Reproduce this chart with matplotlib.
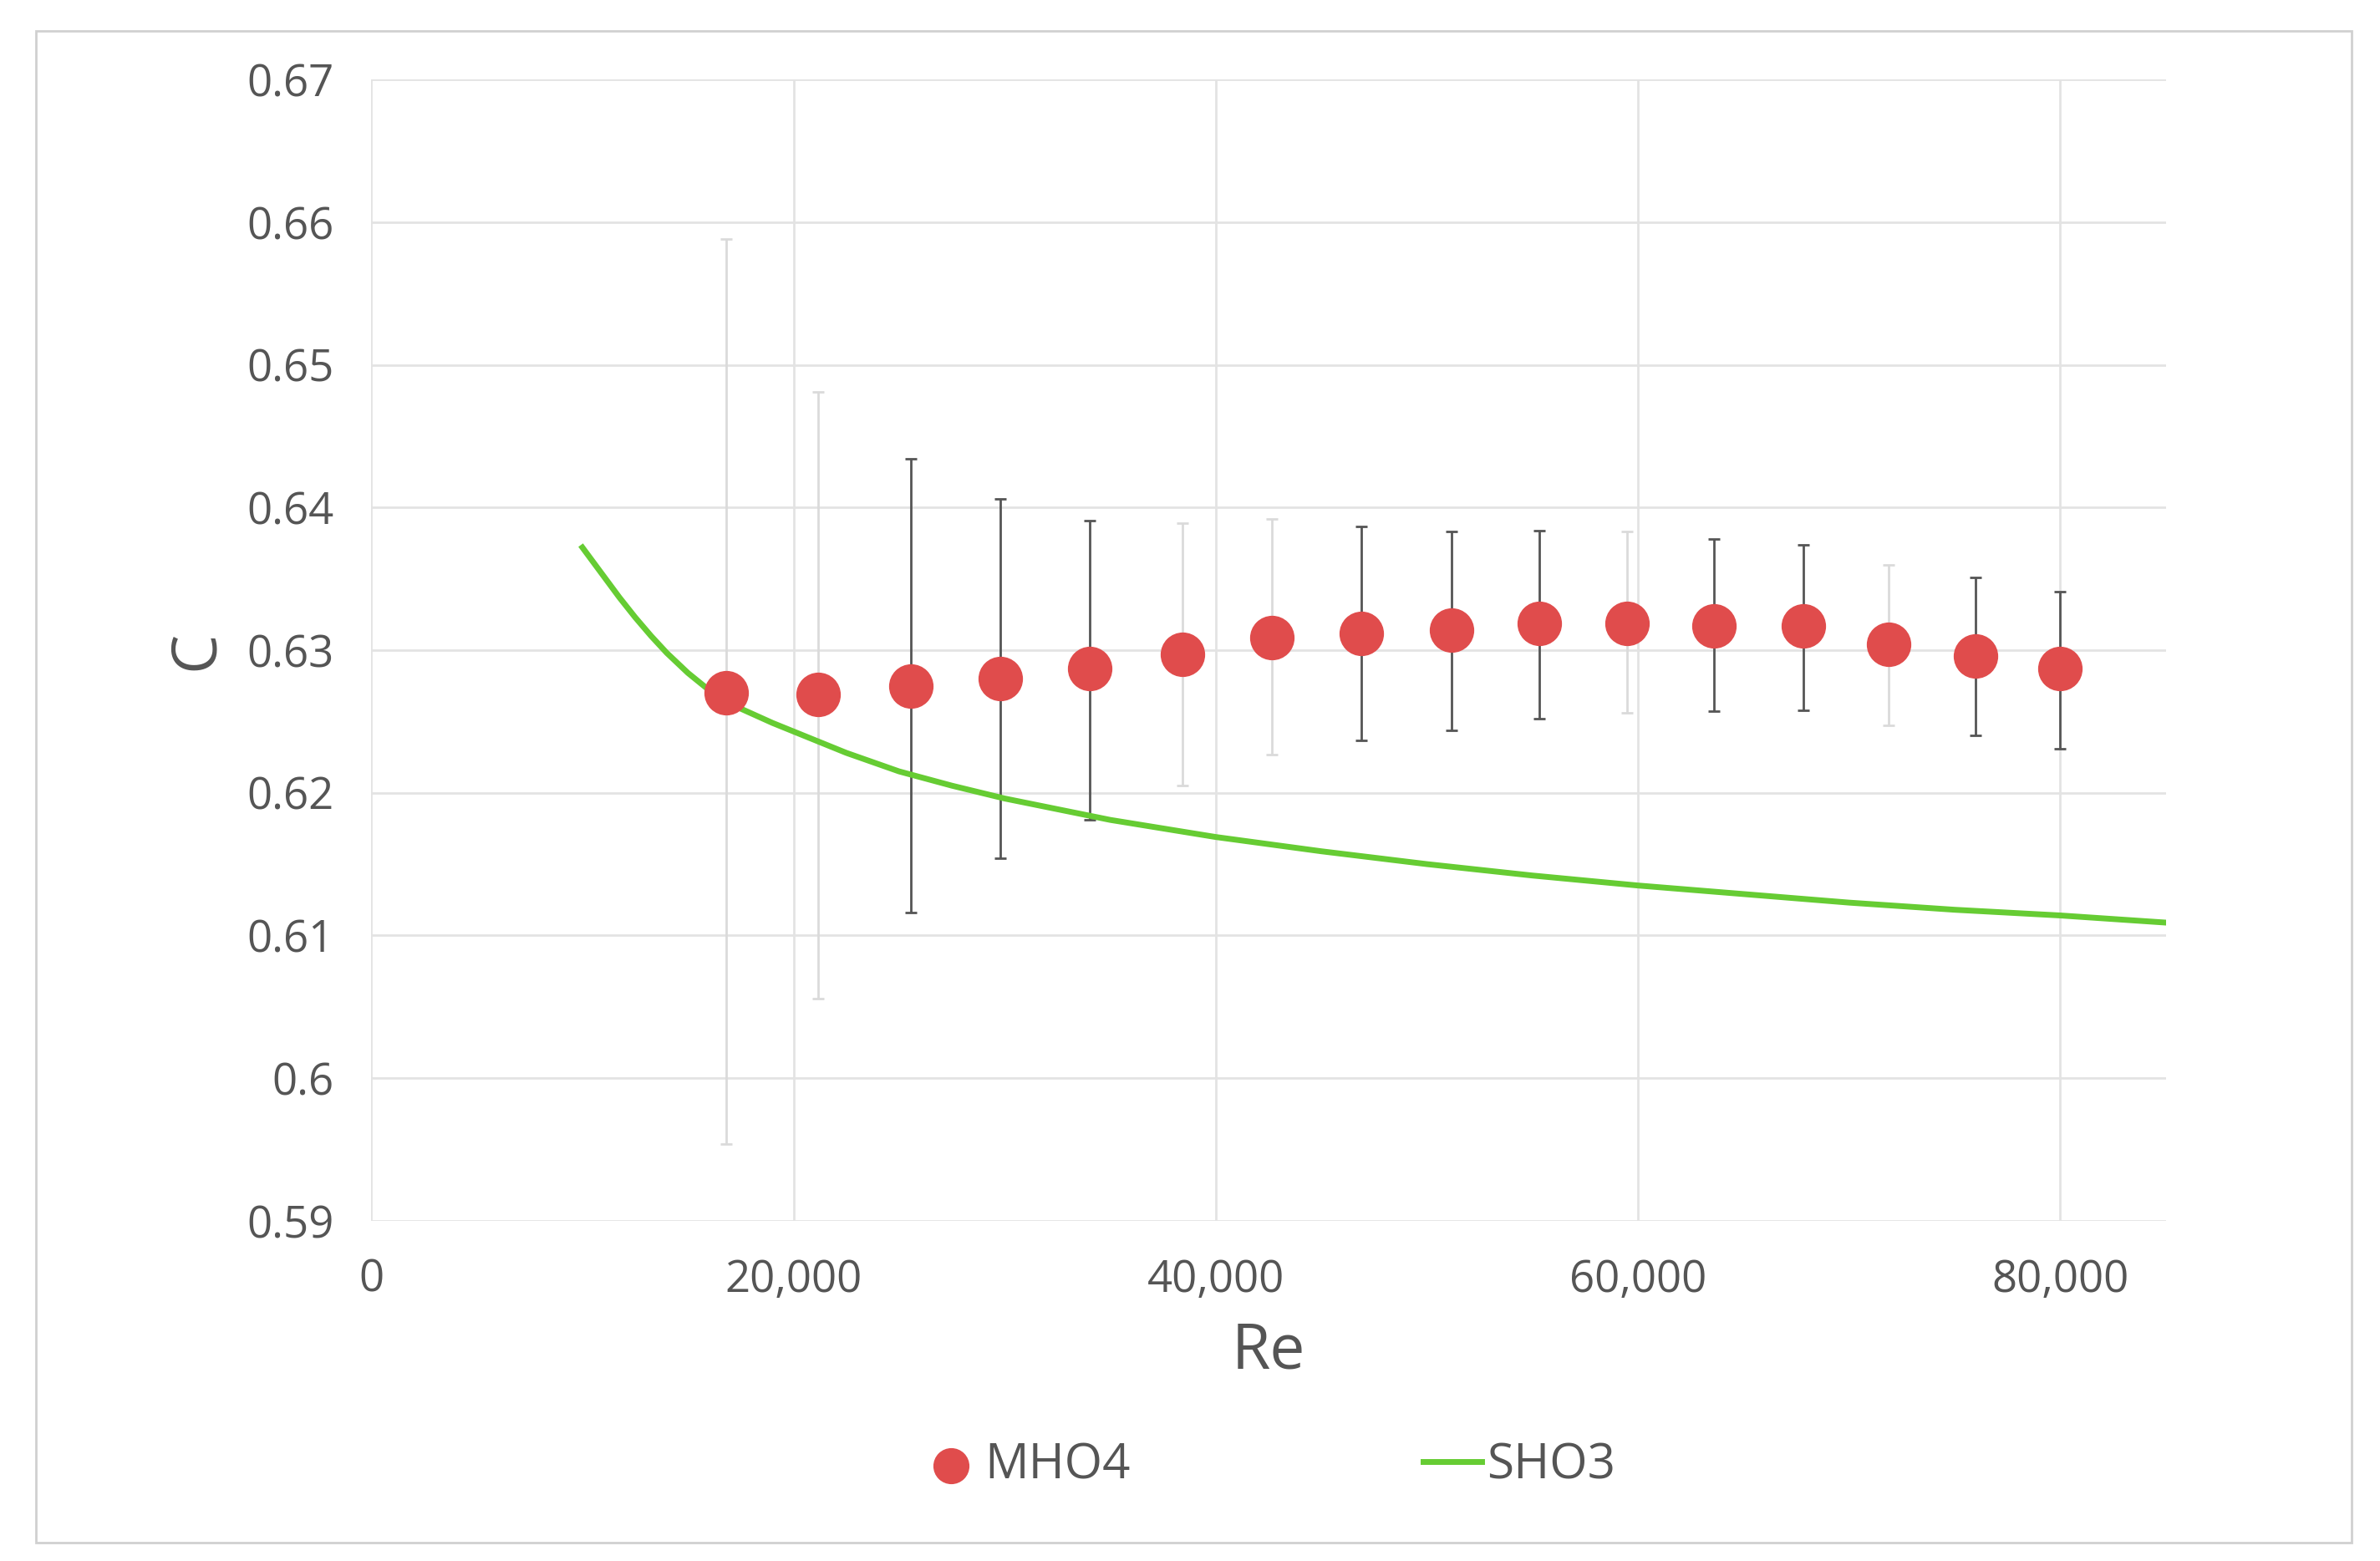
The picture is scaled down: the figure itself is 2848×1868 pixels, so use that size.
import matplotlib
matplotlib.use("Agg")
import matplotlib.pyplot as plt
from matplotlib.patches import Rectangle

re_mho4 = [16830, 21150, 25540, 29780, 34030, 38420, 42660, 46910, 51150, 55320, 59500, 63600, 67840, 71870, 75970, 80000]
c_mho4 = [0.6270, 0.6269, 0.6275, 0.6280, 0.6287, 0.6297, 0.6309, 0.6312, 0.6314, 0.6319, 0.6319, 0.6317, 0.6317, 0.6304, 0.6296, 0.6287]
c_hi = [0.6588, 0.6481, 0.6434, 0.6406, 0.6391, 0.6389, 0.6392, 0.6387, 0.6383, 0.6384, 0.6383, 0.6378, 0.6374, 0.6360, 0.6351, 0.6341]
c_lo = [0.5954, 0.6056, 0.6116, 0.6154, 0.6181, 0.6205, 0.6227, 0.6237, 0.6244, 0.6252, 0.6256, 0.6257, 0.6258, 0.6247, 0.6240, 0.6231]
dark_bar = [False, False, True, True, True, False, False, True, True, True, False, True, True, False, True, True]

re_sho3 = [10000, 10500, 11000, 11750, 12500, 13250, 14000, 15000, 16000, 17500, 19000, 20000, 22500, 25000, 27500, 30000, 35000, 40000, 45000, 50000, 55000, 60000, 65000, 70000, 75000, 80000, 85000]
c_sho3 = [0.6372, 0.6362, 0.6352, 0.6337, 0.6323, 0.6310, 0.6298, 0.6284, 0.6272, 0.6259, 0.6249, 0.6243, 0.6228, 0.6215, 0.6205, 0.6196, 0.6181, 0.6169, 0.6159, 0.6150, 0.6142, 0.6135, 0.6129, 0.6123, 0.6118, 0.6114, 0.6109]

fig = plt.figure(figsize=(14.24, 9.34), dpi=200)
plt.rcParams['font.family'] = ['Open Sans', 'DejaVu Sans']
ax = fig.add_axes([0.156, 0.218, 0.754, 0.731])
fig.patches.append(Rectangle((0.015, 0.012), 0.973, 0.968, transform=fig.transFigure,
                             fill=False, edgecolor='#d0d0d0', lw=1))

for x, y, hi, lo, d in zip(re_mho4, c_mho4, c_hi, c_lo, dark_bar):
    col = '#555555' if d else '#dadada'
    ax.errorbar([x], [y], yerr=[[y - lo], [hi - y]], fmt='none', ecolor=col,
                elinewidth=1, capsize=2.5, capthick=1, zorder=2)
ax.scatter(re_mho4, c_mho4, s=330, color='#e04c4c', zorder=4, label='MHO4')
ax.plot(re_sho3, c_sho3, color='#66cc33', lw=2.5, zorder=3, label='SHO3')

ax.set_xlim(0, 85000)
ax.set_ylim(0.59, 0.67)
ax.set_xticks([0, 20000, 40000, 60000, 80000])
ax.set_xticklabels(['0', '20,000', '40,000', '60,000', '80,000'])
ax.set_yticks([0.59, 0.60, 0.61, 0.62, 0.63, 0.64, 0.65, 0.66, 0.67])
ax.set_yticklabels(['0.59', '0.6', '0.61', '0.62', '0.63', '0.64', '0.65', '0.66', '0.67'])
ax.grid(True, color='#e3e3e3', lw=1)
ax.set_axisbelow(True)
for s in ax.spines.values():
    s.set_visible(False)
ax.tick_params(length=0, labelsize=19, colors='#555555', pad=16)
ax.set_xlabel('Re', fontsize=27, color='#555555', labelpad=8)
ax.set_ylabel('C', fontsize=27, color='#555555', labelpad=8)
ax.legend(loc='upper center', bbox_to_anchor=(0.5, -0.155), ncol=2, frameon=False,
          fontsize=21, labelcolor='#555555', handlelength=1.2, handletextpad=0.1,
          columnspacing=6, markerscale=0.8)
fig.savefig('out.png', dpi=200)
